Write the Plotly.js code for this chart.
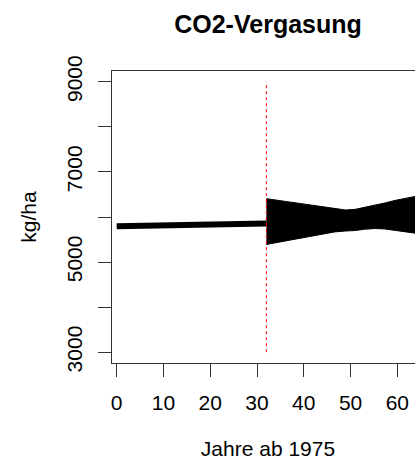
<!DOCTYPE html>
<html>
<head>
<meta charset="utf-8">
<script src="https://cdn.plot.ly/plotly-3.0.1.min.js"></script>
<style>
html, body { margin: 0; padding: 0; overflow: hidden; background: #fff; }
#chart { width: 440px; height: 462px; }
</style>
</head>
<body>
<div id="chart"></div>
<script>
// Period before treatment (years since 1975) and its yield (kg/ha)
var preYears = [0, 32];
var preYield = [5795, 5858];

// Period after treatment: envelope of the strongly oscillating series (kg/ha)
var postYears = [32, 36, 40, 44, 46.6, 49, 51, 53, 55.2, 57.3, 59.5, 61.6, 63.7, 66];
var postUpper = [6406, 6345, 6290, 6225, 6185, 6155, 6170, 6210, 6258, 6310, 6368, 6410, 6457, 6500];
var postLower = [5391, 5465, 5543, 5615, 5669, 5690, 5700, 5728, 5744, 5735, 5706, 5669, 5640, 5610];

// Marker for the start of CO2 fumigation
var markYear = [32, 32];
var markRange = [3000, 9000];

// Axis ticks
var xTickVals = [0, 10, 20, 30, 40, 50, 60];
var xTickText = ['0', '10', '20', '30', '40', '50', '60'];
var yTickVals = [3000, 4000, 5000, 6000, 7000, 8000, 9000];
var yTickText = ['3000', '', '5000', '', '7000', '', '9000'];

var FONT = 'Liberation Sans, Arial, sans-serif';

var traces = [
  {
    x: preYears, y: preYield, type: 'scatter', mode: 'lines',
    line: { color: '#000', width: 6 }, hoverinfo: 'skip', showlegend: false
  },
  {
    x: postYears, y: postLower, type: 'scatter', mode: 'lines',
    line: { color: '#000', width: 1 }, hoverinfo: 'skip', showlegend: false
  },
  {
    x: postYears, y: postUpper, type: 'scatter', mode: 'lines',
    fill: 'tonexty', fillcolor: '#000',
    line: { color: '#000', width: 1 }, hoverinfo: 'skip', showlegend: false
  },
  {
    x: markYear, y: markRange, type: 'scatter', mode: 'lines',
    line: { color: '#ff0000', width: 1, dash: 'dot' }, hoverinfo: 'skip', showlegend: false
  }
];

var layout = {
  width: 440, height: 462,
  margin: { l: 112, r: 16, t: 71, b: 99 },
  paper_bgcolor: '#fff', plot_bgcolor: '#fff',
  font: { family: FONT, size: 21, color: '#000' },
  title: {
    text: '<b>CO2-Vergasung</b>',
    font: { family: FONT, size: 25, color: '#000' },
    x: 0.5, xref: 'paper', xanchor: 'center',
    y: 1 - 24 / 462, yref: 'container', yanchor: 'middle'
  },
  xaxis: {
    range: [-1, 65.7],
    tickvals: xTickVals, ticktext: xTickText,
    ticks: 'outside', ticklen: 13, tickwidth: 1, tickcolor: '#333',
    showline: true, mirror: true, linecolor: '#333', linewidth: 1,
    showgrid: false, zeroline: false,
    ticklabelstandoff: 8,
    tickfont: { family: FONT, size: 21, color: '#000' },
    title: { text: 'Jahre ab 1975', font: { family: FONT, size: 21, color: '#000' }, standoff: 28 }
  },
  yaxis: {
    range: [2760, 9240],
    tickvals: yTickVals, ticktext: yTickText,
    tickangle: -90,
    ticks: 'outside', ticklen: 13, tickwidth: 1, tickcolor: '#333',
    showline: true, mirror: true, linecolor: '#333', linewidth: 1,
    showgrid: false, zeroline: false,
    ticklabelstandoff: 8,
    tickfont: { family: FONT, size: 21, color: '#000' },
    title: { text: 'kg/ha', font: { family: FONT, size: 21, color: '#000' }, standoff: 20 }
  }
};

Plotly.newPlot('chart', traces, layout, { staticPlot: true, displayModeBar: false });
</script>
</body>
</html>
